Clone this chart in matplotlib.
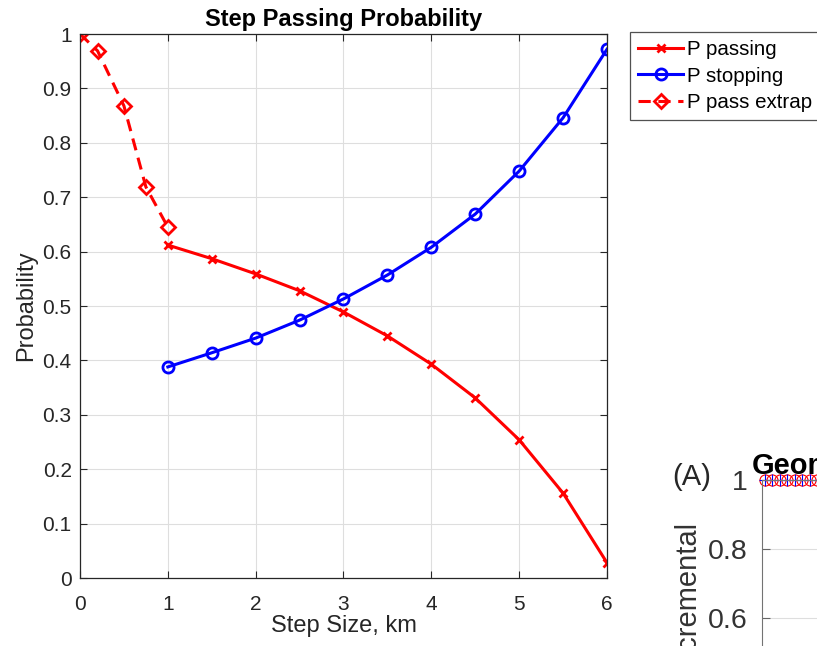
import matplotlib
matplotlib.use("Agg")
import matplotlib.pyplot as plt
from matplotlib.ticker import FormatStrFormatter

plt.rcParams['font.family'] = ['Liberation Sans', 'DejaVu Sans']

# Step passing / stopping probabilities (km)
step_km = [1.0, 1.5, 2.0, 2.5, 3.0, 3.5, 4.0, 4.5, 5.0, 5.5, 6.0]
p_passing = [0.612, 0.587, 0.559, 0.528, 0.489, 0.445, 0.393, 0.331, 0.254, 0.156, 0.028]
p_stopping = [0.388, 0.414, 0.441, 0.474, 0.513, 0.557, 0.608, 0.669, 0.748, 0.846, 0.972]

# Extrapolation of passing probability below 1 km
extrap_km = [0.0, 0.2, 0.5, 0.75, 1.0]
p_extrap = [1.0, 0.969, 0.868, 0.719, 0.645]

# Neighbouring panel (A): first few points sit at 1
panel_x = [1, 2, 3, 4, 5, 6, 7, 8]
panel_y = [1, 1, 1, 1, 1, 1, 1, 1]

W, H = 817, 646
fig = plt.figure(figsize=(W / 100, H / 100), dpi=100)

axcol = (0.15, 0.15, 0.15)
ax = fig.add_axes([80 / W, 1 - 578 / H, 527 / W, 544 / H])
ax.plot(step_km, p_passing, color='red', lw=2.2, marker='x', ms=6, mew=2,
        label='P passing')
ax.plot(step_km, p_stopping, color='blue', lw=2.2, marker='o', ms=8, mew=2,
        mfc='none', label='P stopping')
ax.plot(extrap_km, p_extrap, color='red', lw=2.2, ls=(0, (4, 2.5)), marker='D', ms=7,
        mew=2, mfc='none', label='P pass extrap')

ax.set_xlim(0, 6)
ax.set_ylim(0, 1)
ax.set_xticks(range(0, 7))
ax.set_yticks([i / 10 for i in range(11)])
ax.yaxis.set_major_formatter(FormatStrFormatter('%g'))
ax.grid(True, color=(0.87, 0.87, 0.87), lw=0.8)
ax.set_axisbelow(True)
ax.tick_params(direction='in', top=True, right=True, length=5, labelsize=15,
               colors=axcol, labelcolor=axcol, pad=6)
ax.tick_params(axis='x', pad=12)
for s in ax.spines.values():
    s.set_color(axcol)
    s.set_linewidth(0.9)
ax.set_xlabel('Step Size, km', fontsize=17, color=axcol, labelpad=1)
ax.set_ylabel('Probability', fontsize=17, color=axcol, labelpad=4)
ax.set_title('Step Passing Probability', fontsize=17, fontweight='bold', pad=6)

leg = ax.legend(loc='upper left', bbox_to_anchor=(630 / W, 1 - 32 / H),
                bbox_transform=fig.transFigure, fontsize=14.8, frameon=True,
                fancybox=False, borderpad=0.4, labelspacing=0.36,
                handlelength=2.2, handletextpad=0.15, borderaxespad=0)
leg.get_frame().set_edgecolor(axcol)
leg.get_frame().set_linewidth(0.9)

# part of panel (A) that sits next to this chart
ax2 = fig.add_axes([762 / W, (H - 825) / H, 400 / W, 345 / H])
ax2.plot(panel_x, panel_y, ls='none', marker='o', ms=8, mfc='none', mec='red', mew=0.8,
         clip_on=False)
ax2.plot(panel_x, panel_y, ls='none', marker='+', ms=8, mec='blue', mew=0.8,
         clip_on=False)
ax2.set_xlim(0.6, 54)
ax2.set_ylim(0, 1)
ax2.set_yticks([0.6, 0.8, 1.0])
ax2.yaxis.set_major_formatter(FormatStrFormatter('%g'))
ax2.set_xticks([])
ax2.grid(True, axis='y', color=(0.87, 0.87, 0.87), lw=0.8)
ax2.tick_params(direction='in', length=6, labelsize=20.5, colors=(0.4, 0.4, 0.4),
                labelcolor=(0.2, 0.2, 0.2), pad=10)
for s in ax2.spines.values():
    s.set_color((0.45, 0.45, 0.45))
fig.text(752 / W, 1 - 474 / H, 'Geometric', fontsize=21, fontweight='bold')
fig.text(672 / W, 1 - 485 / H, '(A)', fontsize=21, color=(0.15, 0.15, 0.15))
fig.text(686 / W, 1 - 520 / H, 'Incremental', fontsize=21, rotation=90,
         ha='center', va='top', color=(0.2, 0.2, 0.2))

fig.savefig('out.png', dpi=100)
